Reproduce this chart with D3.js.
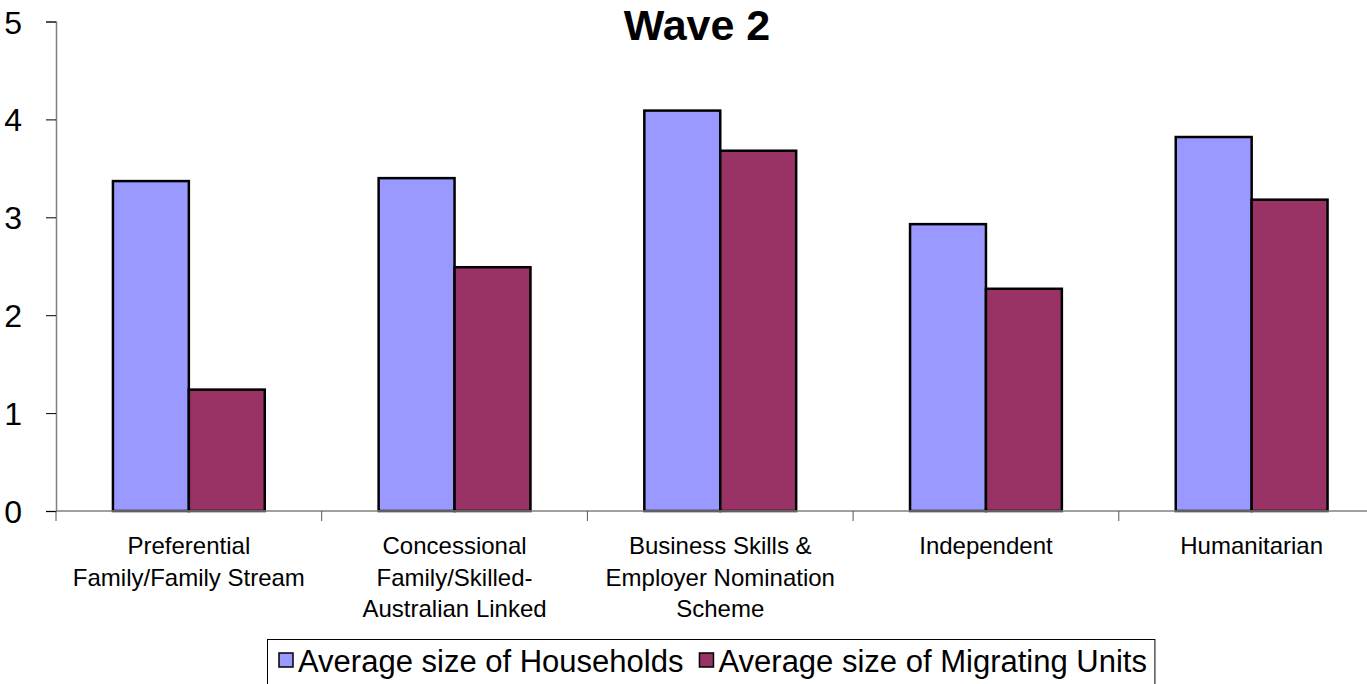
<!DOCTYPE html>
<html>
<head>
<meta charset="utf-8">
<style>
  body { margin: 0; background: #fff; }
  text { font-family: "Liberation Sans", Arial, sans-serif; fill: #000; }
</style>
</head>
<body>
<script src="https://d3js.org/d3.v7.min.js"></script>
<script>
  var categories = [
    ["Preferential", "Family/Family Stream"],
    ["Concessional", "Family/Skilled-", "Australian Linked"],
    ["Business Skills &", "Employer Nomination", "Scheme"],
    ["Independent"],
    ["Humanitarian"]
  ];
  var seriesNames = ["Average size of Households", "Average size of Migrating Units"];
  var households = [3.37, 3.40, 4.09, 2.93, 3.82];
  var migratingUnits = [1.24, 2.49, 3.68, 2.27, 3.18];
  var yTicks = [0, 1, 2, 3, 4, 5];
  var colours = ["#9999FF", "#993366"];

  var W = 1367, H = 684;
  var svg = d3.select("body").append("svg")
      .attr("width", W)
      .attr("height", H);

  var catKeys = categories.map(function(d) { return d.join(" "); });
  var left = 56, step = 265.7;

  var x = d3.scaleBand()
      .domain(catKeys)
      .range([left, left + step * catKeys.length])
      .padding(0);

  var xSub = d3.scaleBand()
      .domain(seriesNames)
      .range([0, x.bandwidth()])
      .paddingInner(0)
      .paddingOuter(0.75);

  var y = d3.scaleLinear()
      .domain([0, 5])
      .range([511, 21.5]);

  // title
  svg.append("text")
      .attr("x", 697)
      .attr("y", 40)
      .attr("text-anchor", "middle")
      .style("font-size", "43px")
      .style("font-weight", "bold")
      .text("Wave 2");

  // bars
  var groups = svg.selectAll("g.cat")
      .data(catKeys)
      .enter().append("g")
      .attr("class", "cat")
      .attr("transform", function(d) { return "translate(" + x(d) + ",0)"; });

  groups.selectAll("rect")
      .data(function(d, i) {
        return [
          {s: seriesNames[0], v: households[i], c: colours[0]},
          {s: seriesNames[1], v: migratingUnits[i], c: colours[1]}
        ];
      })
      .enter().append("rect")
      .attr("x", function(d) { return xSub(d.s); })
      .attr("y", function(d) { return y(d.v); })
      .attr("width", xSub.bandwidth())
      .attr("height", function(d) { return y(0) - y(d.v); })
      .attr("fill", function(d) { return d.c; })
      .attr("stroke", "#000")
      .attr("stroke-width", 2.5);

  // y axis
  var yAxis = d3.axisLeft(y)
      .tickValues(yTicks)
      .tickSize(10)
      .tickPadding(24)
      .tickFormat(d3.format("d"));
  var gy = svg.append("g")
      .attr("transform", "translate(" + left + ",0)")
      .call(yAxis);
  gy.select(".domain").attr("stroke", "#808080").attr("stroke-width", 1.5);
  gy.selectAll(".tick line").attr("stroke", "#000");
  gy.selectAll(".tick text")
      .style("font-size", "32px")
      .attr("dy", "0.36em");

  // x axis
  svg.append("line")
      .attr("x1", left).attr("x2", W)
      .attr("y1", y(0)).attr("y2", y(0))
      .attr("stroke", "#808080").attr("stroke-width", 1.5);

  var boundaries = catKeys.map(function(d) { return x(d); });
  svg.selectAll("line.xtick")
      .data(boundaries)
      .enter().append("line")
      .attr("class", "xtick")
      .attr("x1", function(d) { return d; })
      .attr("x2", function(d) { return d; })
      .attr("y1", y(0))
      .attr("y2", y(0) + 10)
      .attr("stroke", "#555");

  var labels = svg.selectAll("text.xlab")
      .data(categories)
      .enter().append("text")
      .attr("class", "xlab")
      .attr("text-anchor", "middle")
      .style("font-size", "24px")
      .attr("transform", function(d, i) {
        return "translate(" + (x(catKeys[i]) + x.bandwidth() / 2) + ",554)";
      });
  labels.selectAll("tspan")
      .data(function(d) { return d; })
      .enter().append("tspan")
      .attr("x", 0)
      .attr("y", function(d, i) { return i * 31.5; })
      .text(function(d) { return d; });

  // legend, box sized to its content
  var legend = svg.append("g");
  var box = legend.append("rect")
      .attr("x", 267.5).attr("y", 639.5)
      .attr("height", 60)
      .attr("fill", "#fff")
      .attr("stroke", "#000")
      .attr("stroke-width", 1);

  var cursor = 279, lastEnd = 0;
  seriesNames.forEach(function(s, i) {
    legend.append("rect")
        .attr("x", cursor).attr("y", 653)
        .attr("width", 14).attr("height", 14)
        .attr("fill", colours[i])
        .attr("stroke", "#000")
        .attr("stroke-width", 1.5);
    var t = legend.append("text")
        .attr("x", cursor + 19)
        .attr("y", 672)
        .style("font-size", "31px")
        .text(s);
    lastEnd = cursor + 19 + t.node().getComputedTextLength();
    cursor = lastEnd + 16;
  });
  box.attr("width", lastEnd + 8 - 267.5);
</script>
</body>
</html>
